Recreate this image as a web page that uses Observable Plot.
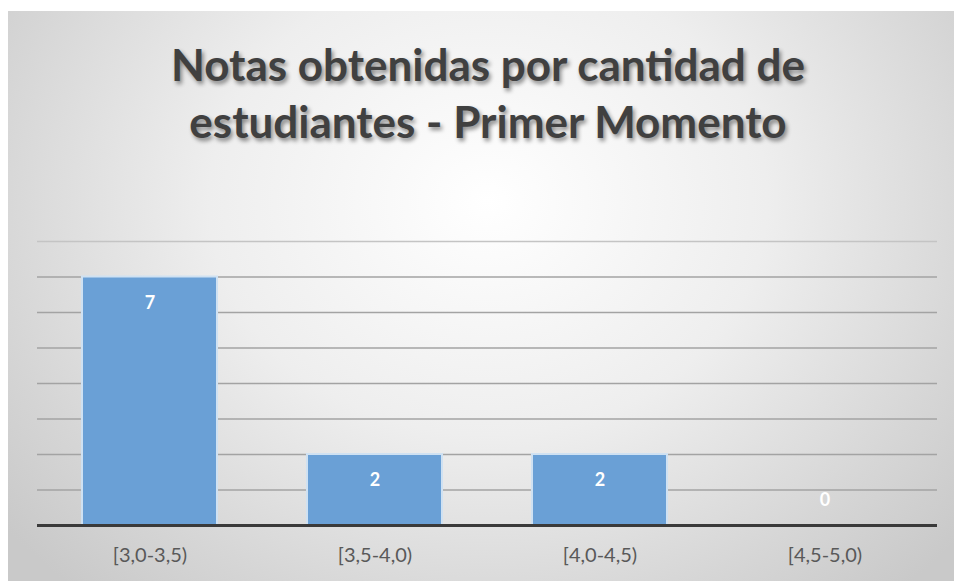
<!DOCTYPE html>
<html>
<head>
<meta charset="utf-8">
<script src="https://cdn.jsdelivr.net/npm/d3@7"></script>
<script src="https://cdn.jsdelivr.net/npm/@observablehq/plot@0.6"></script>
<style>
  html, body { margin: 0; padding: 0; background: #fff; }
  #page { position: relative; width: 954px; height: 581px; overflow: hidden; background: #fff; }
  #bg { position: absolute; left: 8px; top: 11px; width: 946px; height: 570px;
        background: radial-gradient(ellipse 620px 520px at 480px 190px, #ffffff 0%, #eeeeee 45%, #d6d6d6 80%, #c9c9c9 100%); }
  #title { position: absolute; left: 0; top: 36px; width: 976px; text-align: center;
           font-family: Lato, "Open Sans", sans-serif; font-weight: 700; font-size: 44px; line-height: 57px;
           color: #404040; text-shadow: 2px 3px 4px rgba(0,0,0,0.45); }
  #chart { position: absolute; left: 0; top: 0; }
</style>
</head>
<body>
<div id="page">
  <div id="bg"></div>
  <div id="title">Notas obtenidas por cantidad de<br>estudiantes - Primer Momento</div>
  <div id="chart"></div>
</div>
<script>
const categories = ["[3,0-3,5)", "[3,5-4,0)", "[4,0-4,5)", "[4,5-5,0)"];
const counts = [7, 2, 2, 0];
const gridTicks = [1, 2, 3, 4, 5, 6, 7, 8];

const data = categories.map((c, i) => ({category: c, count: counts[i]}));

const chart = Plot.plot({
  width: 954,
  height: 581,
  marginLeft: 37,
  marginRight: 17,
  marginTop: 241,
  marginBottom: 56,
  style: {background: "transparent", fontFamily: "Lato, 'Open Sans', sans-serif"},
  x: {domain: categories, paddingInner: 0.4, paddingOuter: 0.2, label: null},
  y: {domain: [0, 8], axis: null},
  marks: [
    Plot.ruleY(gridTicks, {stroke: d => d === 8 ? "#c4c4c4" : "#a3a3a3", strokeWidth: 1.3}),
    Plot.barY(data, {x: "category", y: "count", fill: "#6aa0d6", stroke: "#cfe1f2", strokeWidth: 2}),
    Plot.ruleY([0], {stroke: "#3a3a3a", strokeWidth: 3}),
    Plot.text(data, {filter: d => d.count > 0, x: "category", y: "count", text: d => String(d.count), dy: 26,
      fill: "#ffffff", fontSize: 18, fontWeight: "bold"}),
    Plot.text(data, {filter: d => d.count === 0, x: "category", y: "count", text: d => String(d.count), dy: -25,
      fill: "#ffffff", fontSize: 18, fontWeight: "bold"}),
    Plot.axisX({tickSize: 0, tickPadding: 22, fontSize: 20, fill: "#595959", label: null})
  ]
});
document.getElementById("chart").append(chart);
</script>
</body>
</html>
